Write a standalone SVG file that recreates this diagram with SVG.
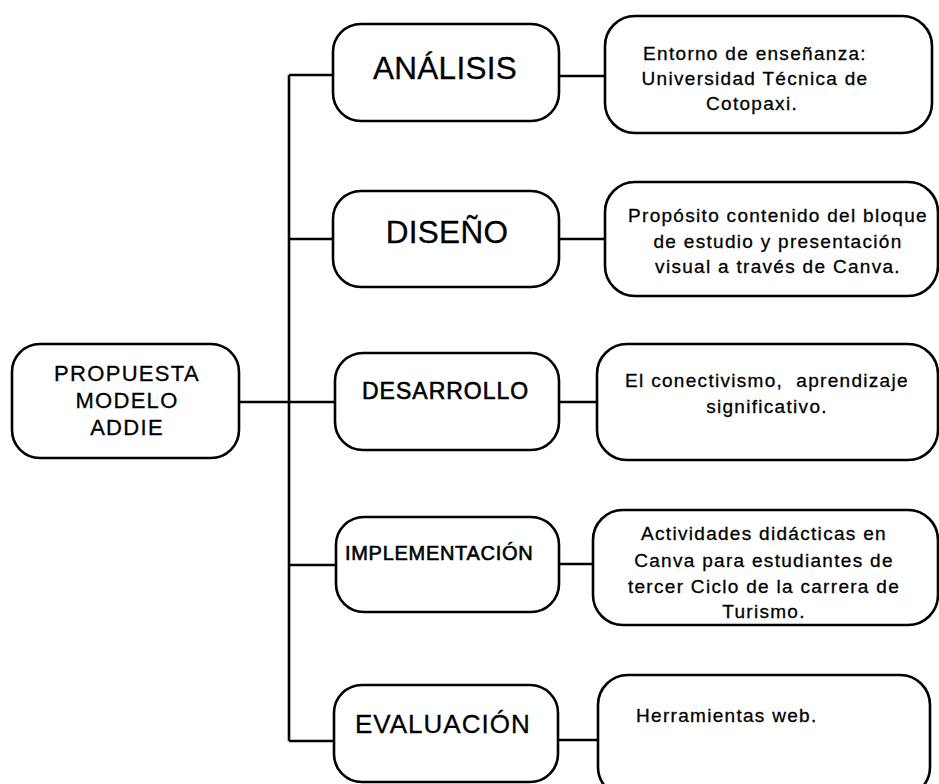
<svg xmlns="http://www.w3.org/2000/svg" width="939" height="784" viewBox="0 0 939 784">
<style>
.box{fill:#fff;stroke:#000;stroke-width:2.6}
.ln{fill:none;stroke:#000;stroke-width:2.6}
text{font-family:"Liberation Sans",Arial,sans-serif;fill:#000;stroke:#000;stroke-width:0.3px}
.t{font-size:19px;letter-spacing:1.3px;text-anchor:middle}
.h{stroke-width:0.6px}
</style>
<rect width="939" height="784" fill="#fff"/>
<g id="connectors">
<path class="ln" d="M289 75V741M289 75H333M289 239H333M239 402H335M289 565H336M289 741H334"/>
<path class="ln" d="M559 76H605M559 239H605M559 402H597M559 564H593M558 740H598"/>
</g>
<g id="propuesta">
<rect class="box" x="12" y="344" width="227" height="114" rx="28"/>
<text class="t" style="font-size:22px" x="127" y="381">PROPUESTA</text>
<text class="t" style="font-size:22px" x="127" y="408">MODELO</text>
<text class="t" style="font-size:22px" x="127" y="435">ADDIE</text>
</g>
<g id="analisis">
<rect class="box" x="333" y="24" width="226" height="97" rx="28"/>
<text x="445" y="79" style="font-size:31.5px;text-anchor:middle;letter-spacing:0.3px">ANÁLISIS</text>
</g>
<g id="diseno">
<rect class="box" x="333" y="191" width="226" height="96" rx="28"/>
<text x="447" y="243" style="font-size:31.5px;text-anchor:middle;letter-spacing:0.3px">DISEÑO</text>
</g>
<g id="desarrollo">
<rect class="box" x="335" y="353" width="224" height="97" rx="28"/>
<text class="h" x="362" y="399" style="font-size:23px;letter-spacing:1px">DESARROLLO</text>
</g>
<g id="implementacion">
<rect class="box" x="336" y="517" width="223" height="95" rx="28"/>
<text class="h" x="345" y="560" style="font-size:20px;letter-spacing:0.7px">IMPLEMENTACIÓN</text>
</g>
<g id="evaluacion">
<rect class="box" x="334" y="685" width="224" height="97" rx="28"/>
<text x="355" y="733" style="font-size:26px;letter-spacing:1px">EVALUACIÓN</text>
</g>
<g id="entorno">
<rect class="box" x="605" y="16" width="327" height="117" rx="30"/>
<text class="t" x="755" y="60">Entorno de enseñanza:</text>
<text class="t" x="755" y="85">Universidad Técnica de</text>
<text class="t" x="752" y="110">Cotopaxi.</text>
</g>
<g id="proposito">
<rect class="box" x="605" y="182" width="333" height="114" rx="30"/>
<text class="t" x="778" y="222">Propósito contenido del bloque</text>
<text class="t" x="778" y="248">de estudio y presentación</text>
<text class="t" x="778" y="273">visual a través de Canva.</text>
</g>
<g id="conectivismo">
<rect class="box" x="597" y="344" width="341" height="116" rx="30"/>
<text class="t" x="767" y="387" xml:space="preserve">El conectivismo,  aprendizaje</text>
<text class="t" x="767" y="413">significativo.</text>
</g>
<g id="actividades">
<rect class="box" x="593" y="510" width="345" height="115" rx="30"/>
<text class="t" x="764" y="540">Actividades didácticas en</text>
<text class="t" x="764" y="567">Canva para estudiantes de</text>
<text class="t" x="764" y="593">tercer Ciclo de la carrera de</text>
<text class="t" x="764" y="618">Turismo.</text>
</g>
<g id="herramientas">
<rect class="box" x="598" y="675" width="332" height="122" rx="30"/>
<text x="636" y="722" style="font-size:19px;letter-spacing:1.3px">Herramientas web.</text>
</g>
</svg>
